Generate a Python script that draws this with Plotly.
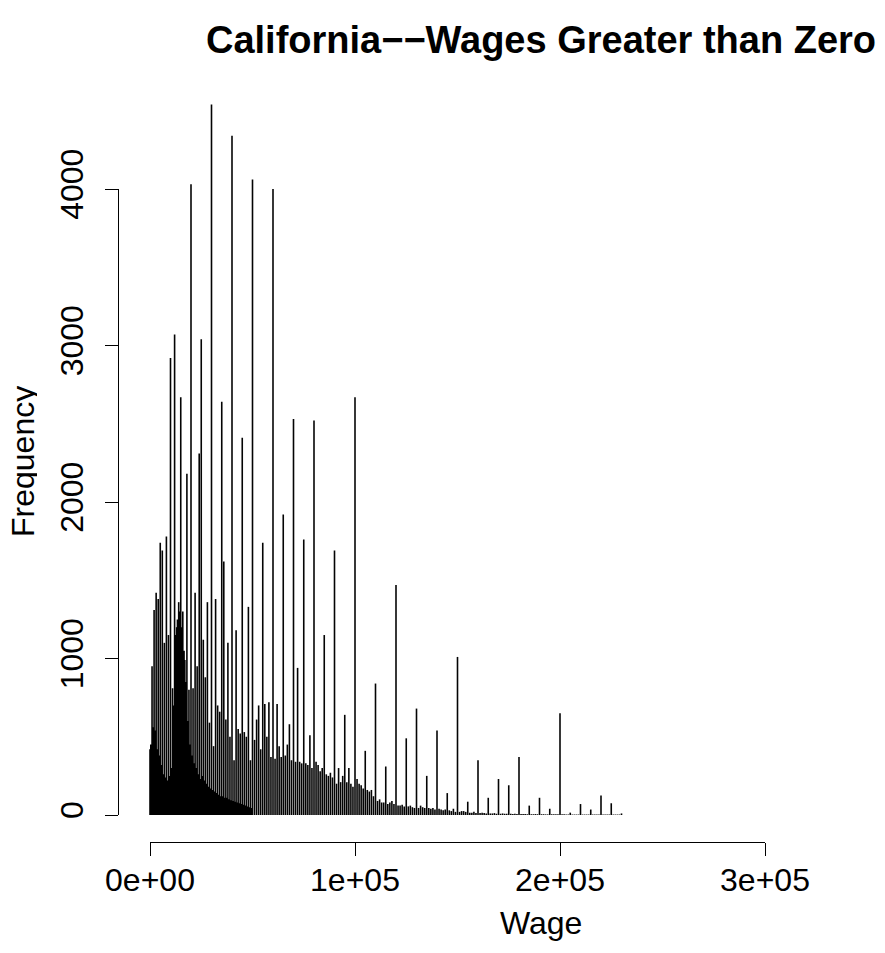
import plotly.graph_objects as go

# Counts at each whole-thousand wage value (k * 1000), k = 0..230
thousand_counts = [
    420, 950, 1310, 1420, 1380, 1740, 1690, 1100, 1780, 1150,
    2920, 810, 3070, 1200, 1360, 2670, 1300, 990, 2180, 800,
    4030, 810, 1420, 950, 2310, 3040, 1120, 880, 1360, 590,
    4540, 440, 1380, 700, 660, 2640, 1620, 610, 1100, 500,
    4340, 350, 1180, 550, 520, 2410, 530, 500, 1330, 350,
    4060, 480, 610, 700, 420, 1740, 710, 500, 720, 370,
    4000, 360, 710, 440, 370, 1920, 380, 450, 580, 350,
    2530, 340, 940, 340, 330, 1760, 330, 320, 510, 300,
    2520, 340, 320, 280, 300, 1150, 260, 250, 270, 240,
    1690, 200, 300, 210, 250, 640, 210, 300, 200, 180,
    2670, 230, 200, 190, 170, 410, 160, 150, 160, 120,
    840, 90, 100, 80, 80, 310, 70, 80, 90, 70,
    1470, 60, 60, 65, 55, 490, 55, 60, 50, 45,
    680, 45, 60, 50, 45, 250, 45, 40, 45, 35,
    540, 40, 35, 30, 35, 140, 30, 25, 40, 20,
    1010, 20, 25, 25, 20, 85, 15, 15, 20, 12,
    350, 12, 15, 12, 10, 110, 10, 10, 12, 8,
    230, 8, 10, 8, 8, 190, 8, 6, 8, 6,
    370, 6, 6, 6, 5, 60, 5, 5, 6, 5,
    110, 5, 5, 4, 4, 40, 4, 4, 5, 4,
    650, 4, 4, 3, 3, 15, 3, 3, 3, 3,
    70, 3, 3, 3, 3, 35, 3, 3, 3, 3,
    125, 3, 3, 3, 3, 75, 3, 3, 3, 3,
    10,
]
thousand_wages = [k * 1000 for k in range(len(thousand_counts))]

# Dense counts of non-round wages, per $1000 block starting at 0, 1000, ..., 49000
fine_counts = [
    450, 560, 540, 420, 380, 320, 260, 240, 220, 250,
    300, 700, 1150, 1250, 1300, 1200, 1050, 850, 600, 450,
    380, 330, 300, 260, 230, 250, 220, 200, 180, 170,
    160, 150, 140, 130, 120, 120, 110, 110, 100, 95,
    90, 85, 80, 75, 70, 65, 60, 55, 50, 45,
]
fine_starts = [k * 1000 for k in range(len(fine_counts) + 1)]

x_ticks = [0, 100000, 200000, 300000]
x_tick_labels = ["0e+00", "1e+05", "2e+05", "3e+05"]
y_ticks = [0, 1000, 2000, 3000, 4000]
y_tick_labels = ["0", "1000", "2000", "3000", "4000"]

# The page body has an 8px margin; the figure is sized to fill the rest of the window
OFF = 8.0
W, H = 877, 937
FONT = "Liberation Sans, Arial, sans-serif"

# pixel geometry of the reference (window coordinates), shifted into figure coordinates
x0_px, x3_px = 150.0 - OFF, 765.0 - OFF      # wage 0 and 3e5
y0_px, y4_px = 815.0 - OFF, 189.0 - OFF      # count 0 and 4000
xaxis_y = 842.0 - OFF
yaxis_x = 118.0 - OFF
xscale = (x3_px - x0_px) / 300000.0
yscale = (y0_px - y4_px) / 4000.0

fig = go.Figure()

fig.add_trace(go.Scatter(
    x=fine_starts, y=fine_counts + [fine_counts[-1]],
    mode="lines", line=dict(width=0, shape="hv", color="black"),
    fill="tozeroy", fillcolor="black", hoverinfo="skip", showlegend=False,
))

fig.add_trace(go.Bar(
    x=thousand_wages, y=thousand_counts, width=780,
    marker=dict(color="rgba(0,0,0,0.99)", line=dict(width=0)),
    showlegend=False,
))

# dummy trace to instantiate display axes
fig.add_trace(go.Scatter(x=[None], y=[None], xaxis="x2", yaxis="y2",
                         mode="markers", showlegend=False, hoverinfo="skip"))

fig.update_layout(
    template="none",
    width=W, height=H,
    margin=dict(l=0, r=0, t=0, b=0, pad=0, autoexpand=False),
    paper_bgcolor="white", plot_bgcolor="rgba(0,0,0,0)",
    bargap=0.2,
    showlegend=False,
    xaxis=dict(visible=False, automargin=False,
               range=[-x0_px / xscale, (W - x0_px) / xscale],
               domain=[0, 1], fixedrange=True),
    yaxis=dict(visible=False, automargin=False,
               range=[-(H - y0_px) / yscale, y0_px / yscale],
               domain=[0, 1], fixedrange=True),
    xaxis2=dict(
        automargin=False,
        domain=[x0_px / W, x3_px / W], range=[0, 300000],
        anchor="free", position=(H - xaxis_y) / H,
        showline=True, linecolor="black", linewidth=1,
        ticks="outside", ticklen=13, tickwidth=1, tickcolor="black",
        tickvals=x_ticks, ticktext=x_tick_labels,
        tickfont=dict(family=FONT, size=32, color="black"),
        ticklabelstandoff=-3,
        showgrid=False, zeroline=False, fixedrange=True,
    ),
    yaxis2=dict(
        automargin=False,
        domain=[(H - y0_px) / H, (H - y4_px) / H], range=[0, 4000],
        anchor="free", position=yaxis_x / W, side="left",
        showline=True, linecolor="black", linewidth=1,
        ticks="outside", ticklen=13, tickwidth=1, tickcolor="black",
        tickvals=y_ticks, ticktext=y_tick_labels, tickangle=-90,
        tickfont=dict(family=FONT, size=32, color="black"),
        ticklabelstandoff=9,
        showgrid=False, zeroline=False, fixedrange=True,
    ),
    title=dict(
        text="<b>California\u2212\u2212Wages Greater than Zero</b>",
        font=dict(family=FONT, size=38, color="black"),
        x=(541.0 - OFF) / W, xanchor="center", y=1 - (40.0 - OFF) / H, yanchor="middle",
        automargin=False,
    ),
    annotations=[
        dict(text="Wage", xref="paper", yref="paper",
             x=(541.0 - OFF) / W, y=1 - (923.0 - OFF) / H,
             xanchor="center", yanchor="middle",
             showarrow=False, font=dict(family=FONT, size=32, color="black")),
        dict(text="Frequency", xref="paper", yref="paper", textangle=-90,
             x=(23.0 - OFF) / W, y=1 - (462.0 - OFF) / H,
             xanchor="center", yanchor="middle", borderpad=0, height=28,
             showarrow=False, font=dict(family=FONT, size=32, color="black")),
    ],
)

fig.write_html("out.html")
